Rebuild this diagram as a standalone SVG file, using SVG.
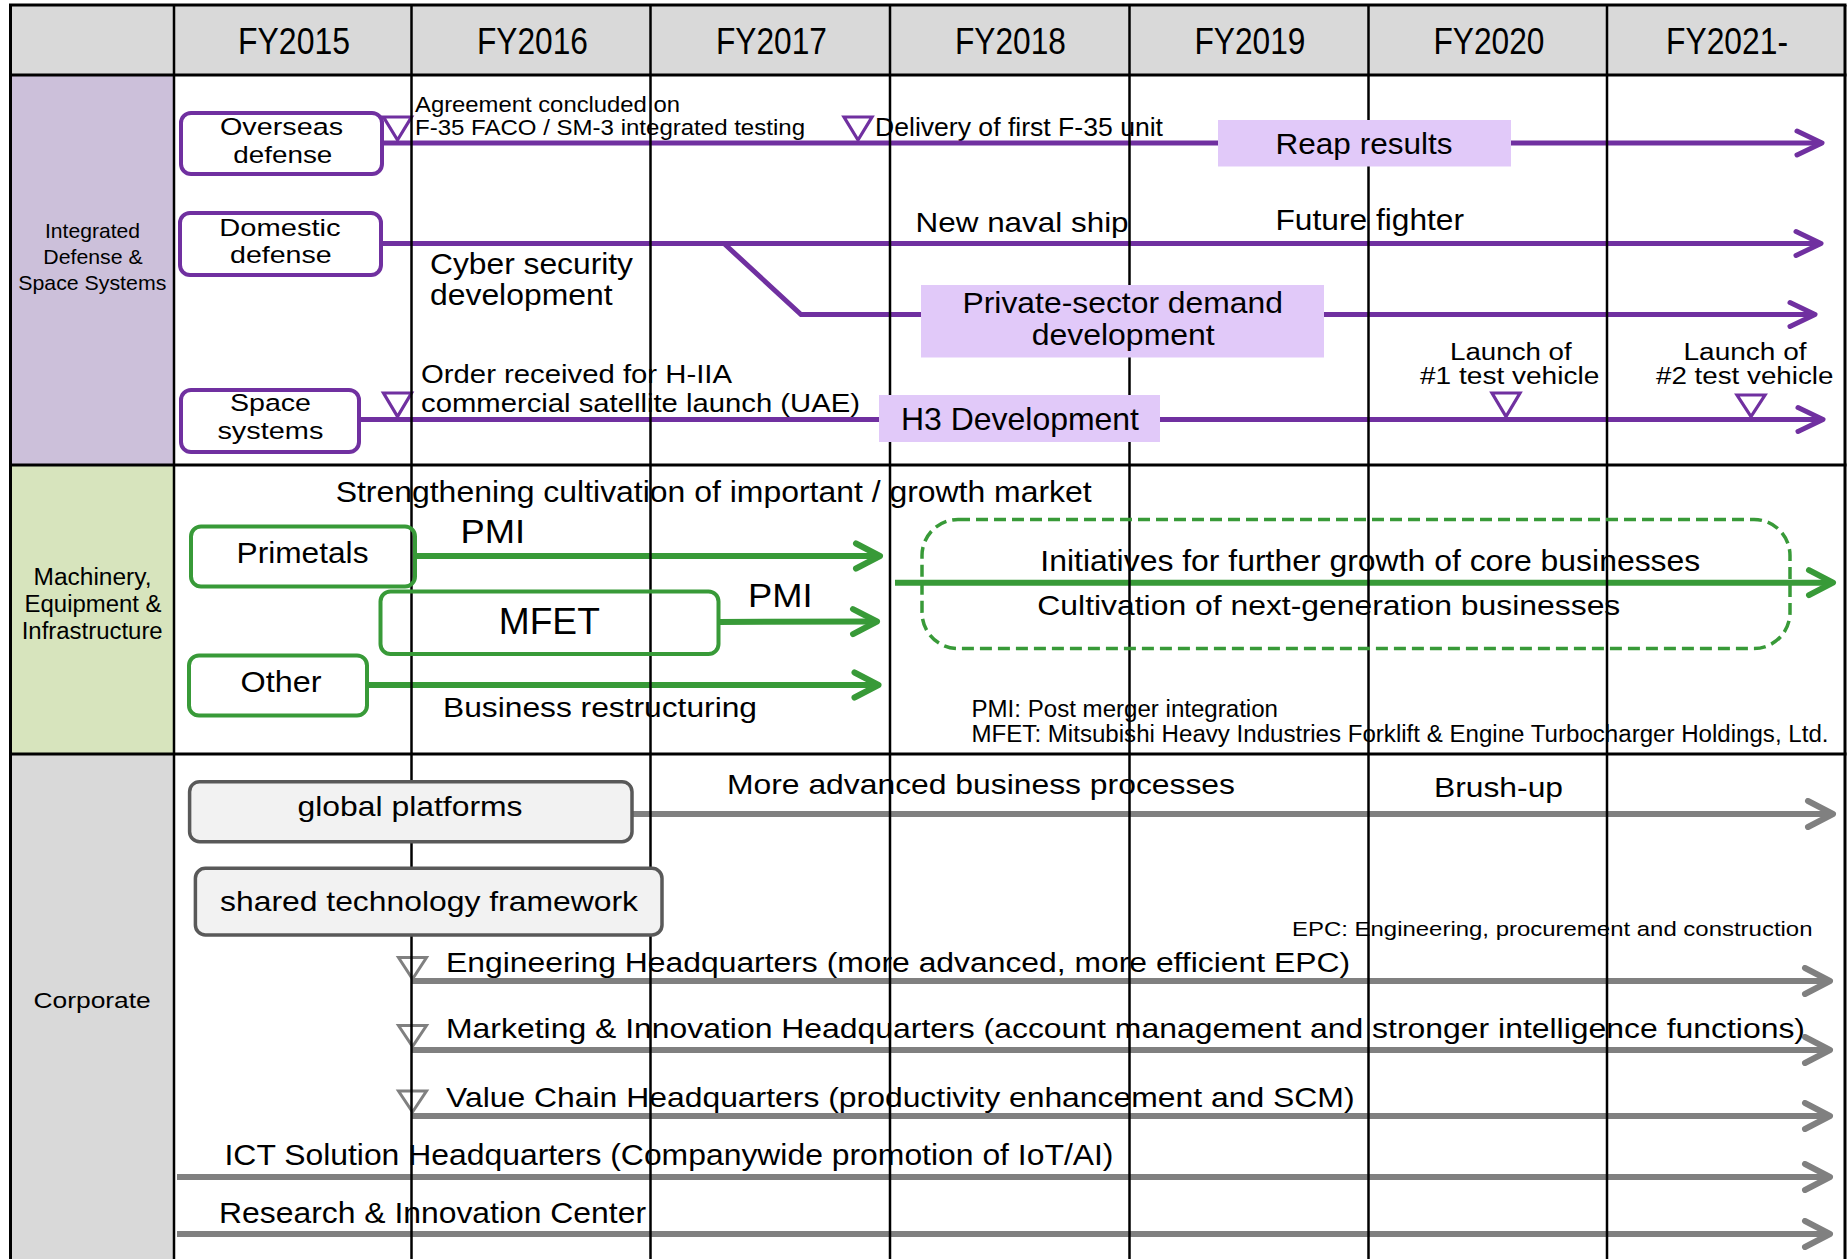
<svg xmlns="http://www.w3.org/2000/svg" width="1847" height="1259" viewBox="0 0 1847 1259">
  <defs>
    <style>
      text { font-family: "Liberation Sans", Arial, sans-serif; fill: #000; }
      .grid { stroke: #000; stroke-width: 2.5; }
      .rule { stroke: #000; stroke-width: 3; }
      .pl { fill: none; stroke: #7030a0; stroke-width: 5; }
      .gl { fill: none; stroke: #389a38; stroke-width: 6; }
      .yl { fill: none; stroke: #808080; stroke-width: 6; }
      .ptri { fill: #fff; stroke: #7030a0; stroke-width: 3.2; }
      .ytri { fill: #fff; stroke: #808080; stroke-width: 3; }
      .pbox { fill: #fff; stroke: #7030a0; stroke-width: 4; }
      .lav { fill: #e1c9f9; }
      .gbox { fill: none; stroke: #389a38; stroke-width: 4; }
      .cbox { fill: #f2f2f2; stroke: #595959; stroke-width: 3.5; }
      .two { font-size: 24.5px; }
    </style>
    <marker id="ah-p" markerUnits="userSpaceOnUse" viewBox="-30 -16 34 32" refX="0" refY="0" markerWidth="34" markerHeight="32" orient="auto">
      <path d="M-25,-12 L0,0 L-25,12" fill="none" stroke="#7030a0" stroke-width="5" stroke-linecap="round" stroke-linejoin="round"/>
    </marker>
    <marker id="ah-g" markerUnits="userSpaceOnUse" viewBox="-30 -16 34 32" refX="0" refY="0" markerWidth="34" markerHeight="32" orient="auto">
      <path d="M-24,-12.5 L0,0 L-24,12.5" fill="none" stroke="#389a38" stroke-width="6" stroke-linecap="round" stroke-linejoin="round"/>
    </marker>
    <marker id="ah-y" markerUnits="userSpaceOnUse" viewBox="-30 -16 34 32" refX="0" refY="0" markerWidth="34" markerHeight="32" orient="auto">
      <path d="M-25,-13 L0,0 L-25,13" fill="none" stroke="#808080" stroke-width="6" stroke-linecap="round" stroke-linejoin="round"/>
    </marker>
  </defs>

  <!-- page and band backgrounds -->
  <rect x="0" y="0" width="1847" height="1259" fill="#fff"/>
  <rect x="10" y="5" width="1835" height="70" fill="#d9d9d9"/>
  <rect x="10" y="75" width="164" height="390" fill="#ccc0da"/>
  <rect x="10" y="465" width="164" height="289" fill="#d7e4bd"/>
  <rect x="10" y="754" width="164" height="505" fill="#d9d9d9"/>

  <!-- fiscal-year headers -->
  <g id="headers" font-size="37.5">
    <text x="238" y="54" textLength="112" lengthAdjust="spacingAndGlyphs">FY2015</text>
    <text x="477" y="54" textLength="111" lengthAdjust="spacingAndGlyphs">FY2016</text>
    <text x="716" y="54" textLength="111" lengthAdjust="spacingAndGlyphs">FY2017</text>
    <text x="955" y="54" textLength="111" lengthAdjust="spacingAndGlyphs">FY2018</text>
    <text x="1194.5" y="54" textLength="111" lengthAdjust="spacingAndGlyphs">FY2019</text>
    <text x="1433.5" y="54" textLength="111" lengthAdjust="spacingAndGlyphs">FY2020</text>
    <text x="1666" y="54" textLength="122" lengthAdjust="spacingAndGlyphs">FY2021-</text>
  </g>

  <!-- segment labels -->
  <g id="segments">
    <g font-size="21">
      <text x="45" y="238" textLength="95" lengthAdjust="spacingAndGlyphs">Integrated</text>
      <text x="43.3" y="264" textLength="99.3" lengthAdjust="spacingAndGlyphs">Defense &amp;</text>
      <text x="18.3" y="290" textLength="148" lengthAdjust="spacingAndGlyphs">Space Systems</text>
    </g>
    <g font-size="23">
      <text x="33.5" y="585" textLength="118" lengthAdjust="spacingAndGlyphs">Machinery,</text>
      <text x="24.6" y="611.7" textLength="137" lengthAdjust="spacingAndGlyphs">Equipment &amp;</text>
      <text x="21.7" y="639" textLength="141" lengthAdjust="spacingAndGlyphs">Infrastructure</text>
    </g>
    <text x="33.5" y="1008" font-size="22" textLength="117.3" lengthAdjust="spacingAndGlyphs">Corporate</text>
  </g>

  <!-- free-standing annotations -->
  <g id="notes">
    <text x="415" y="111.7" font-size="22.5" textLength="265" lengthAdjust="spacingAndGlyphs">Agreement concluded on</text>
    <text x="415" y="135" font-size="22.5" textLength="390" lengthAdjust="spacingAndGlyphs">F-35 FACO / SM-3 integrated testing</text>
    <text x="875" y="136" font-size="26.5" textLength="288" lengthAdjust="spacingAndGlyphs">Delivery of first F-35 unit</text>
    <text x="915.6" y="231.7" font-size="28" textLength="213" lengthAdjust="spacingAndGlyphs">New naval ship</text>
    <text x="1275.5" y="230" font-size="30" textLength="188.5" lengthAdjust="spacingAndGlyphs">Future fighter</text>
    <text x="430" y="274" font-size="29" textLength="203" lengthAdjust="spacingAndGlyphs">Cyber security</text>
    <text x="430" y="305" font-size="29" textLength="182.5" lengthAdjust="spacingAndGlyphs">development</text>
    <text x="421" y="383" font-size="26" textLength="311" lengthAdjust="spacingAndGlyphs">Order received for H-IIA</text>
    <text x="421" y="411.7" font-size="26" textLength="439" lengthAdjust="spacingAndGlyphs">commercial satellite launch (UAE)</text>
    <text x="1450" y="360" font-size="23.5" textLength="121.7" lengthAdjust="spacingAndGlyphs">Launch of</text>
    <text x="1420" y="384" font-size="23.5" textLength="179.3" lengthAdjust="spacingAndGlyphs">#1 test vehicle</text>
    <text x="1683.5" y="360" font-size="23.5" textLength="123" lengthAdjust="spacingAndGlyphs">Launch of</text>
    <text x="1656" y="384" font-size="23.5" textLength="177.4" lengthAdjust="spacingAndGlyphs">#2 test vehicle</text>

    <text x="335.7" y="501.7" font-size="30" textLength="756" lengthAdjust="spacingAndGlyphs">Strengthening cultivation of important / growth market</text>
    <text x="460.6" y="543" font-size="33.5" textLength="64.6" lengthAdjust="spacingAndGlyphs">PMI</text>
    <text x="748" y="606.7" font-size="33.5" textLength="64.5" lengthAdjust="spacingAndGlyphs">PMI</text>
    <text x="443" y="716.7" font-size="27.5" textLength="314" lengthAdjust="spacingAndGlyphs">Business restructuring</text>
    <text x="971.5" y="716.7" font-size="23" textLength="306.5" lengthAdjust="spacingAndGlyphs">PMI: Post merger integration</text>
    <text x="971.5" y="741.7" font-size="23" textLength="857" lengthAdjust="spacingAndGlyphs">MFET: Mitsubishi Heavy Industries Forklift &amp; Engine Turbocharger Holdings, Ltd.</text>

    <text x="727" y="794.3" font-size="28" textLength="508" lengthAdjust="spacingAndGlyphs">More advanced business processes</text>
    <text x="1434" y="796.7" font-size="28" textLength="129" lengthAdjust="spacingAndGlyphs">Brush-up</text>
    <text x="1292" y="936" font-size="20.5" textLength="520.5" lengthAdjust="spacingAndGlyphs">EPC: Engineering, procurement and construction</text>
    <text x="446" y="971.7" font-size="27" textLength="904" lengthAdjust="spacingAndGlyphs">Engineering Headquarters (more advanced, more efficient EPC)</text>
    <text x="446" y="1038.3" font-size="27.5" textLength="1359" lengthAdjust="spacingAndGlyphs">Marketing &amp; Innovation Headquarters (account management and stronger intelligence functions)</text>
    <text x="446" y="1106.7" font-size="27.5" textLength="908.5" lengthAdjust="spacingAndGlyphs">Value Chain Headquarters (productivity enhancement and SCM)</text>
    <text x="224.5" y="1165" font-size="29" textLength="889" lengthAdjust="spacingAndGlyphs">ICT Solution Headquarters (Companywide promotion of IoT/AI)</text>
    <text x="219" y="1222.7" font-size="29" textLength="427" lengthAdjust="spacingAndGlyphs">Research &amp; Innovation Center</text>
  </g>

  <!-- timeline connectors and milestone markers -->
  <g id="connectors">
    <path class="pl" d="M382 143 H1822" marker-end="url(#ah-p)"/>
    <path class="pl" d="M381 243.5 H1821" marker-end="url(#ah-p)"/>
    <path class="pl" d="M724 243.5 L801 314.5 H1815" marker-end="url(#ah-p)"/>
    <path class="pl" d="M359 419.5 H1823" marker-end="url(#ah-p)"/>
    <polygon class="ptri" points="383.5,117 411.5,117 397.5,140"/>
    <polygon class="ptri" points="844,117 872,117 858,140"/>
    <polygon class="ptri" points="383.5,393 411.5,393 397.5,416.5"/>
    <polygon class="ptri" points="1492,393 1520,393 1506,416.5"/>
    <polygon class="ptri" points="1737,395 1765,395 1751,416.5"/>

    <path class="gl" d="M415 556 H880" marker-end="url(#ah-g)"/>
    <path class="gl" d="M718 622 L877 621.5" marker-end="url(#ah-g)"/>
    <path class="gl" d="M367 685 H878.5" marker-end="url(#ah-g)"/>
    <path class="gl" d="M895 582.7 H1833" marker-end="url(#ah-g)"/>

    <path class="yl" d="M632 814 H1833" marker-end="url(#ah-y)"/>
    <path class="yl" d="M412 981 H1830" marker-end="url(#ah-y)"/>
    <path class="yl" d="M412 1050 H1830" marker-end="url(#ah-y)"/>
    <path class="yl" d="M412 1116 H1830" marker-end="url(#ah-y)"/>
    <path class="yl" d="M177 1177 H1830" marker-end="url(#ah-y)"/>
    <path class="yl" d="M177 1234 H1830" marker-end="url(#ah-y)"/>
    <polygon class="ytri" points="398.5,957.5 426.5,957.5 412.5,979"/>
    <polygon class="ytri" points="398.5,1025.5 426.5,1025.5 412.5,1046.5"/>
    <polygon class="ytri" points="398.5,1091 426.5,1091 412.5,1112"/>
  </g>

  <!-- table rules -->
  <g id="grid">
    <line class="grid" x1="174" y1="5" x2="174" y2="1259"/>
    <line class="grid" x1="411.5" y1="5" x2="411.5" y2="1259"/>
    <line class="grid" x1="650.5" y1="5" x2="650.5" y2="1259"/>
    <line class="grid" x1="890" y1="5" x2="890" y2="1259"/>
    <line class="grid" x1="1129.5" y1="5" x2="1129.5" y2="1259"/>
    <line class="grid" x1="1368.5" y1="5" x2="1368.5" y2="1259"/>
    <line class="grid" x1="1607" y1="5" x2="1607" y2="1259"/>
    <line class="rule" x1="10.5" y1="5" x2="10.5" y2="1259"/>
    <line class="rule" x1="1845" y1="5" x2="1845" y2="1259"/>
    <line class="rule" x1="9" y1="5" x2="1846.5" y2="5"/>
    <line class="rule" x1="9" y1="75" x2="1846.5" y2="75"/>
    <line class="rule" x1="9" y1="465" x2="1846.5" y2="465"/>
    <line class="rule" x1="9" y1="754" x2="1846.5" y2="754"/>
  </g>

  <!-- nodes -->
  <g id="node-overseas">
    <rect class="pbox" x="181" y="113" width="201" height="61" rx="10"/>
    <text class="two" x="220" y="135" textLength="123" lengthAdjust="spacingAndGlyphs">Overseas</text>
    <text class="two" x="233.3" y="162.5" textLength="99" lengthAdjust="spacingAndGlyphs">defense</text>
  </g>
  <g id="node-domestic">
    <rect class="pbox" x="180" y="213" width="201" height="62" rx="10"/>
    <text class="two" x="219.3" y="235.5" textLength="121.3" lengthAdjust="spacingAndGlyphs">Domestic</text>
    <text class="two" x="230" y="263" textLength="101.7" lengthAdjust="spacingAndGlyphs">defense</text>
  </g>
  <g id="node-space">
    <rect class="pbox" x="181" y="390" width="178" height="62" rx="10"/>
    <text class="two" x="230" y="411" textLength="81" lengthAdjust="spacingAndGlyphs">Space</text>
    <text class="two" x="217.4" y="438.5" textLength="106" lengthAdjust="spacingAndGlyphs">systems</text>
  </g>
  <g id="node-reap">
    <rect class="lav" x="1218" y="120" width="293" height="46.5"/>
    <text x="1275.5" y="154" font-size="30" textLength="177" lengthAdjust="spacingAndGlyphs">Reap results</text>
  </g>
  <g id="node-private">
    <rect class="lav" x="921" y="285" width="403" height="72.5"/>
    <text x="962.5" y="313" font-size="30" textLength="320.5" lengthAdjust="spacingAndGlyphs">Private-sector demand</text>
    <text x="1031.7" y="345" font-size="30" textLength="183" lengthAdjust="spacingAndGlyphs">development</text>
  </g>
  <g id="node-h3">
    <rect class="lav" x="879" y="395" width="281" height="47"/>
    <text x="901" y="430" font-size="32" textLength="238" lengthAdjust="spacingAndGlyphs">H3 Development</text>
  </g>
  <g id="node-primetals">
    <rect class="gbox" x="191" y="526.5" width="224" height="60" rx="10"/>
    <text x="236.5" y="563.3" font-size="30" textLength="132" lengthAdjust="spacingAndGlyphs">Primetals</text>
  </g>
  <g id="node-mfet">
    <rect class="gbox" x="380.5" y="591.5" width="338" height="62.5" rx="10"/>
    <text x="498.8" y="634.3" font-size="36" textLength="101" lengthAdjust="spacingAndGlyphs">MFET</text>
  </g>
  <g id="node-other">
    <rect class="gbox" x="189" y="655.5" width="178" height="60" rx="10"/>
    <text x="240.6" y="692.3" font-size="29.5" textLength="81" lengthAdjust="spacingAndGlyphs">Other</text>
  </g>
  <g id="node-growth">
    <rect x="922" y="519.5" width="868" height="129" rx="36" fill="none" stroke="#389a38" stroke-width="3.5" stroke-dasharray="12 6"/>
    <text x="1040.3" y="570.7" font-size="29" textLength="660" lengthAdjust="spacingAndGlyphs">Initiatives for further growth of core businesses</text>
    <text x="1037.3" y="615" font-size="27.5" textLength="583" lengthAdjust="spacingAndGlyphs">Cultivation of next-generation businesses</text>
  </g>
  <g id="node-global">
    <rect class="cbox" x="189.6" y="781.7" width="442.4" height="60" rx="10"/>
    <text x="297.5" y="816" font-size="27.5" textLength="225" lengthAdjust="spacingAndGlyphs">global platforms</text>
  </g>
  <g id="node-shared">
    <rect class="cbox" x="195.4" y="868.3" width="466.6" height="66.7" rx="10"/>
    <text x="220" y="910.7" font-size="28" textLength="418" lengthAdjust="spacingAndGlyphs">shared technology framework</text>
  </g>
</svg>
